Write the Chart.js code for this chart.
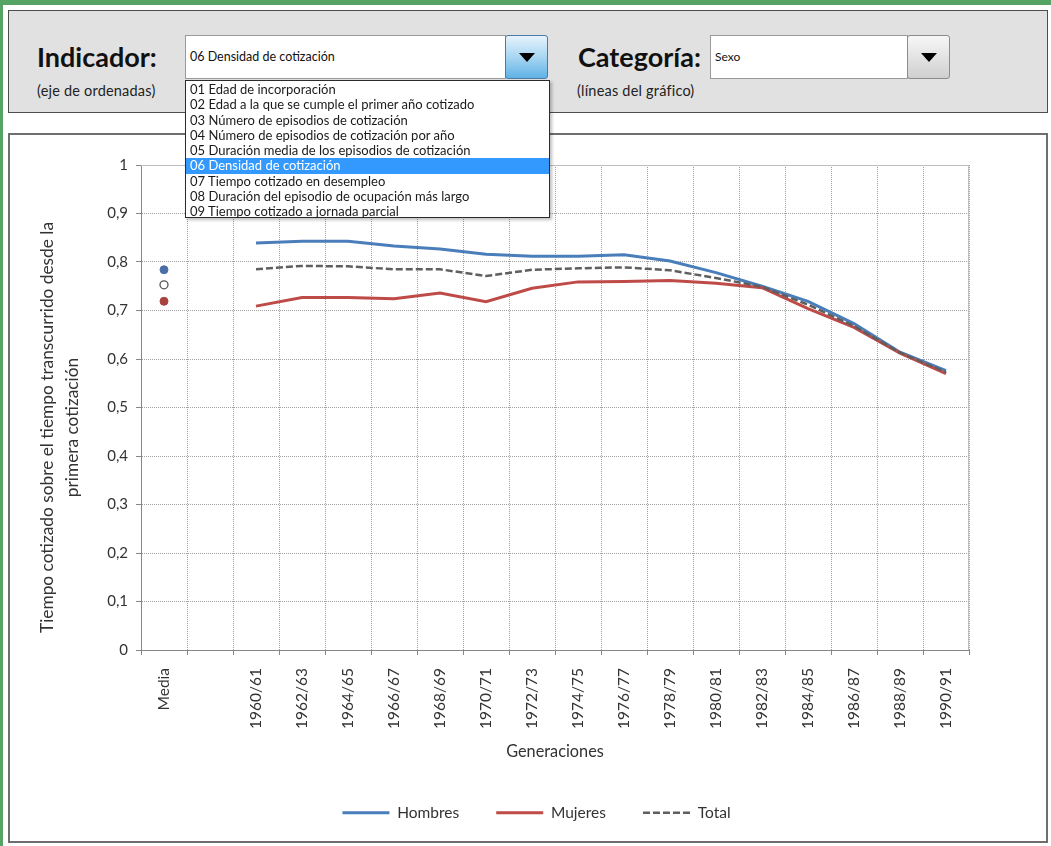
<!DOCTYPE html>
<html>
<head>
<meta charset="utf-8">
<script src="https://cdn.jsdelivr.net/npm/chart.js@4.4.1/dist/chart.umd.min.js"></script>
<style>
    body { margin: 0; width: 1051px; height: 846px; position: relative; overflow: hidden; background: #fff; font-family: Lato, "Open Sans", sans-serif; color: #111; }
    .green-top { position: absolute; left: 0; top: 0; width: 1051px; height: 5px; background: #55a466; }
    .green-left { position: absolute; left: 0; top: 0; width: 3px; height: 846px; background: #55a466; }
    #panel { position: absolute; left: 8px; top: 10px; width: 1038px; height: 101px; background: #e1e1e1; border: 1px solid #4d4d4d; }
    .label { position: absolute; font-weight: bold; font-size: 27px; line-height: 30px; color: #111; }
    .hint { position: absolute; font-size: 14.5px; line-height: 16px; letter-spacing: 0.2px; color: #222; }
    .select { position: absolute; background: #fff; border: 1px solid #9a9a9a; font-size: 12.5px; line-height: 42px; padding-left: 4px; box-sizing: border-box; color: #111; }
    .btn { position: absolute; box-sizing: border-box; border-radius: 3px; }
    .btn::after { content: ""; position: absolute; left: 50%; top: 50%; margin-left: -8px; margin-top: -4px; border-left: 8px solid transparent; border-right: 8px solid transparent; border-top: 9px solid #000; }
    .btn-blue { background: linear-gradient(#e6f3fc, #a9d6f2 50%, #5fb2e5); border: 1px solid #4a7ba6; }
    .btn-gray { background: linear-gradient(#f7f7f7, #e3e3e3 50%, #cfcfcf); border: 1px solid #8c8c8c; }
    #list { position: absolute; left: 185px; top: 80px; width: 365px; height: 138px; background: #fff; border: 1px solid #2b2b2b; box-sizing: border-box; box-shadow: 2px 2px 3px rgba(0,0,0,0.25); z-index: 5; padding-top: 1px; }
    #list div { height: 15.3px; line-height: 15.3px; font-size: 13px; padding-left: 4px; color: #1a1a1a; white-space: nowrap; }
    #list div.sel { background: #3399ff; color: #fff; }
    #chartbox { position: absolute; left: 8px; top: 133px; width: 1036px; height: 706px; border: 2px solid #6e6e6e; background: #fff; }
    #chartbox canvas { position: absolute; left: 0; top: 0; }
</style>
</head>
<body>
<div class="green-top"></div>
<div class="green-left"></div>

<div id="panel"></div>
<div class="label" style="left:37px; top:42px;">Indicador:</div>
<div class="hint" style="left:37px; top:83px;">(eje de ordenadas)</div>
<div class="select" style="left:185px; top:35px; width:321px; height:44px;">06 Densidad de cotización</div>
<div class="btn btn-blue" style="left:505px; top:35px; width:43px; height:44px;"></div>

<div class="label" style="left:578px; top:42px;">Categoría:</div>
<div class="hint" style="left:577px; top:83px;">(líneas del gráfico)</div>
<div class="select" style="left:710px; top:35px; width:198px; height:44px; font-size:12px;">Sexo</div>
<div class="btn btn-gray" style="left:907px; top:35px; width:43px; height:44px;"></div>

<div id="list"></div>

<div id="chartbox"><canvas id="chart" width="1036" height="706"></canvas></div>

<script>
    const indicadores = [
        "01 Edad de incorporación",
        "02 Edad a la que se cumple el primer año cotizado",
        "03 Número de episodios de cotización",
        "04 Número de episodios de cotización por año",
        "05 Duración media de los episodios de cotización",
        "06 Densidad de cotización",
        "07 Tiempo cotizado en desempleo",
        "08 Duración del episodio de ocupación más largo",
        "09 Tiempo cotizado a jornada parcial"
    ];

    // generaciones (eje X): "Media", un hueco y las cohortes
    const generaciones = ["1960/61", "1962/63", "1964/65", "1966/67", "1968/69", "1970/71", "1972/73", "1974/75",
        "1976/77", "1978/79", "1980/81", "1982/83", "1984/85", "1986/87", "1988/89", "1990/91"];
    const categories = ["Media", ""].concat(generaciones);

    const hombres = [0.839, 0.843, 0.843, 0.833, 0.827, 0.816, 0.812, 0.812, 0.815, 0.802, 0.778, 0.750, 0.719, 0.673, 0.614, 0.576];
    const mujeres = [0.709, 0.727, 0.727, 0.724, 0.736, 0.718, 0.746, 0.759, 0.760, 0.762, 0.756, 0.747, 0.704, 0.665, 0.612, 0.570];
    const total = [0.785, 0.792, 0.791, 0.785, 0.785, 0.771, 0.784, 0.787, 0.789, 0.783, 0.767, 0.749, 0.712, 0.668, 0.613, 0.573];

    const mediaHombres = 0.784;
    const mediaTotal = 0.753;
    const mediaMujeres = 0.719;

    const yTickLabels = ["0", "0,1", "0,2", "0,3", "0,4", "0,5", "0,6", "0,7", "0,8", "0,9", "1"];

    const list = document.getElementById("list");
    indicadores.forEach(txt => {
        const d = document.createElement("div");
        d.textContent = txt;
        if (txt.startsWith("06")) d.className = "sel";
        list.appendChild(d);
    });

    const lineData = arr => [null, null].concat(arr);
    const mediaData = v => [v].concat(new Array(categories.length - 1).fill(null));

    const plotFrame = {
        id: "plotFrame",
        beforeDatasetsDraw(chart) {
            const { ctx, chartArea: a } = chart;
            ctx.save();
            ctx.strokeStyle = "#bfbfbf";
            ctx.lineWidth = 1;
            ctx.beginPath();
            ctx.moveTo(a.left, a.top + 0.5);
            ctx.lineTo(a.right - 0.5, a.top + 0.5);
            ctx.lineTo(a.right - 0.5, a.bottom);
            ctx.stroke();
            ctx.restore();
        }
    };

    // legend: fixed height and shifted to the right like the original
    const legendTweak = {
        id: "legendTweak",
        afterInit(chart) {
            const lg = chart.legend;
            const fit = lg.fit;
            lg.fit = function () { fit.call(this); this.height = 73; };
            const draw = lg.draw;
            lg.draw = function () {
                this.ctx.save();
                this.ctx.translate(47, 0);
                draw.call(this);
                this.ctx.restore();
            };
        }
    };

    // y title sits a bit lower than the middle of the axis
    function shiftTitle(scale, dy) {
        if (scale._shifted) return;
        const dt = scale.drawTitle;
        scale.drawTitle = function () {
            this.ctx.save();
            this.ctx.translate(0, dy);
            dt.call(this);
            this.ctx.restore();
        };
        scale._shifted = true;
    }

    const txt = "#333";
    const gridColor = "#a0a0a0";
    const axisColor = "#868686";

    new Chart(document.getElementById("chart").getContext("2d"), {
        type: "line",
        data: {
            labels: categories,
            datasets: [
                { label: "Hombres", data: lineData(hombres), borderColor: "#4a7ebb", backgroundColor: "#4a7ebb", borderWidth: 3, pointRadius: 0, order: 3 },
                { label: "Mujeres", data: lineData(mujeres), borderColor: "#be4b48", backgroundColor: "#be4b48", borderWidth: 3, pointRadius: 0, order: 2 },
                { label: "Total", data: lineData(total), borderColor: "#5f5f5f", backgroundColor: "#5f5f5f", borderWidth: 2.5, borderDash: [7, 3], pointRadius: 0, order: 1 },
                { label: "mH", data: mediaData(mediaHombres), showLine: false, pointRadius: 4, pointBackgroundColor: "#4a6fa8", pointBorderColor: "#4a6fa8", order: 0 },
                { label: "mT", data: mediaData(mediaTotal), showLine: false, pointRadius: 4, pointBackgroundColor: "#fff", pointBorderColor: "#555", pointBorderWidth: 1.3, order: 0 },
                { label: "mM", data: mediaData(mediaMujeres), showLine: false, pointRadius: 4, pointBackgroundColor: "#a8423e", pointBorderColor: "#a8423e", order: 0 }
            ]
        },
        options: {
            responsive: false,
            animation: false,
            layout: { padding: { left: 0, top: 30, right: 77, bottom: 0 } },
            plugins: {
                tooltip: { enabled: false },
                legend: {
                    position: "bottom",
                    labels: {
                        usePointStyle: true,
                        pointStyle: "line",
                        pointStyleWidth: 47,
                        padding: 37,
                        color: txt,
                        font: { family: "Lato", size: 15.5 },
                        generateLabels: chart => {
                            const items = Chart.defaults.plugins.legend.labels.generateLabels(chart);
                            return items.map(it => {
                                const ds = chart.data.datasets[it.datasetIndex];
                                it.lineWidth = ds.borderWidth;
                                it.lineDash = ds.borderDash || [];
                                it.strokeStyle = ds.borderColor;
                                return it;
                            });
                        },
                        filter: item => item.datasetIndex < 3,
                        sort: (a, b) => a.datasetIndex - b.datasetIndex
                    }
                }
            },
            scales: {
                x: {
                    offset: true,
                    afterFit: s => { s.height = 118; },
                    grid: { offset: true, color: gridColor, lineWidth: 1, tickLength: 5, tickColor: axisColor },
                    border: { color: axisColor, width: 1, dash: [1, 1] },
                    ticks: { autoSkip: false, minRotation: 90, maxRotation: 90, padding: 13, color: txt, font: { family: "Lato", size: 15.5 } },
                    title: { display: true, text: "Generaciones", color: txt, font: { family: "Lato", size: 16.3 }, padding: { top: 0, bottom: 6 } }
                },
                y: {
                    min: 0,
                    max: 1,
                    afterFit: s => { s.width = 131; shiftTitle(s, 20); },
                    grid: { color: gridColor, lineWidth: 1, tickLength: 5, tickColor: axisColor },
                    border: { color: axisColor, width: 1, dash: [1, 1] },
                    ticks: {
                        stepSize: 0.1,
                        padding: 8,
                        color: txt,
                        font: { family: "Lato", size: 15 },
                        callback: v => yTickLabels[Math.round(v * 10)]
                    },
                    title: {
                        display: true,
                        text: ["Tiempo cotizado sobre el tiempo transcurrido desde la", "primera cotización"],
                        color: txt,
                        font: { family: "Lato", size: 17.3, lineHeight: 1.45 },
                        padding: { top: 24.5, bottom: 0 }
                    }
                }
            }
        },
        plugins: [plotFrame, legendTweak]
    });
</script>
</body>
</html>
